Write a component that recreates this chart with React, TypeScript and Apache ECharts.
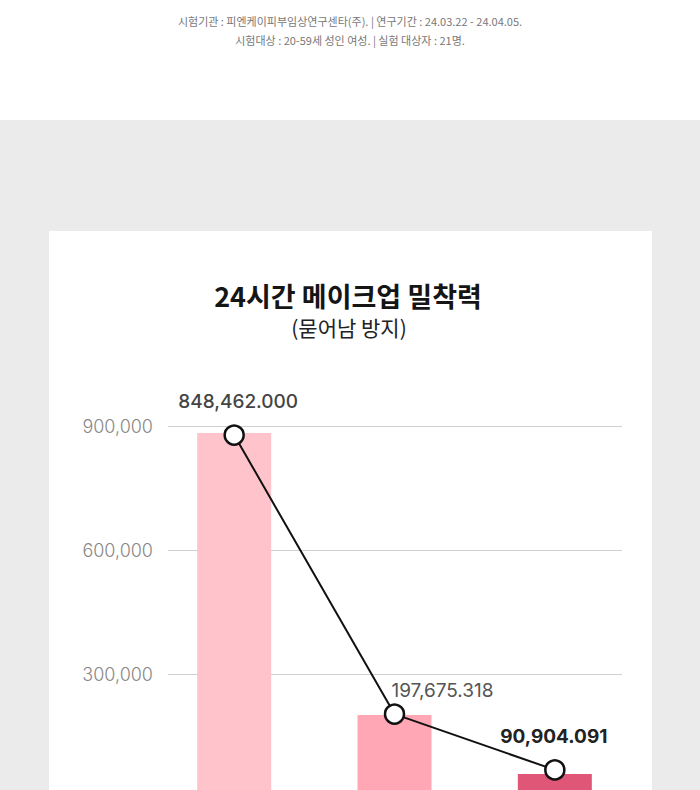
import React, { useEffect, useRef } from "react";
import * as echarts from "echarts";

const categories = ["1", "2", "3"];
const barValues = [883000, 201000, 58000];
const pointValues = [878000, 203000, 68000];
const valueLabels = ["848,462.000", "197,675.318", "90,904.091"];
const barColors = ["#ffc3cc", "#ffa7b5", "#e05677"];
const yMin = 0;
const yMax = 900000;
const yInterval = 300000;
const infoLines = [
  "시험기관 : 피엔케이피부임상연구센타(주). | 연구기간 : 24.03.22 - 24.04.05.",
  "시험대상 : 20-59세 성인 여성. | 실험 대상자 : 21명.",
];
const titleText = "24시간 메이크업 밀착력";
const subtitleText = "(묻어남 방지)";

const NUM_FONT = "Inter, 'Noto Sans', sans-serif";
const KR_FONT = "'Noto Sans CJK KR', 'Noto Sans', sans-serif";

const CHART_H = 860;

export default function App() {
  const ref = useRef<HTMLDivElement>(null);
  useEffect(() => {
    if (!ref.current) return;
    const chart = echarts.init(ref.current, undefined, { renderer: "svg" });
    const labelStyles = [
      { offset: [4, -34], color: "#444", fontWeight: 500 },
      { offset: [48, -24], color: "#555", fontWeight: 400 },
      { offset: [-1, -33], color: "#222", fontWeight: 700 },
    ];
    const gridBottom = CHART_H - 798;
    chart.setOption({
      animation: false,
      backgroundColor: "#ffffff",
      graphic: [
        { type: "rect", z: -100, shape: { x: 0, y: 120, width: 700, height: CHART_H }, style: { fill: "#ebebeb" } },
        { type: "rect", z: -90, shape: { x: 49, y: 231, width: 603, height: CHART_H }, style: { fill: "#ffffff" } },
        ...infoLines.map((t, i) => ({
          type: "text",
          z: 100,
          x: 350,
          y: 21 + i * 19,
          style: {
            text: t,
            fill: "#777",
            fontSize: 11,
            lineHeight: 13,
            fontFamily: KR_FONT,
            textAlign: "center",
            textVerticalAlign: "middle",
            verticalAlign: "middle",
          },
        })),
        {
          type: "text",
          z: 100,
          x: 348,
          y: 295,
          style: {
            text: titleText,
            fill: "#151515",
            fontSize: 27,
            lineHeight: 28,
            fontWeight: 700,
            fontFamily: KR_FONT,
            textAlign: "center",
            textVerticalAlign: "middle",
            verticalAlign: "middle",
          },
        },
        {
          type: "text",
          z: 100,
          x: 349,
          y: 327,
          style: {
            text: subtitleText,
            fill: "#222",
            fontSize: 21,
            lineHeight: 22,
            fontWeight: 400,
            fontFamily: KR_FONT,
            textAlign: "center",
            textVerticalAlign: "middle",
            verticalAlign: "middle",
          },
        },
      ],
      grid: [
        { left: 168, right: 78, top: 426, bottom: gridBottom, containLabel: false },
        { left: 154, right: 65, top: 426, bottom: gridBottom, containLabel: false },
      ],
      xAxis: [
        {
          type: "category",
          gridIndex: 0,
          data: categories,
          show: false,
        },
        {
          type: "category",
          gridIndex: 1,
          data: categories,
          axisLine: { show: false },
          axisTick: { show: false },
          axisLabel: { show: false },
        },
      ],
      yAxis: [
        {
          type: "value",
          gridIndex: 0,
          min: yMin,
          max: yMax,
          interval: yInterval,
          axisLine: { show: false },
          axisTick: { show: false },
          splitLine: { lineStyle: { color: "#d0d0d0", width: 1 } },
          axisLabel: {
            margin: 15,
            color: "#888",
            fontSize: 18,
            fontWeight: 300,
            fontFamily: NUM_FONT,
            formatter: (v: number) => v.toLocaleString("en-US"),
          },
        },
        {
          type: "value",
          gridIndex: 1,
          min: yMin,
          max: yMax,
          interval: yInterval,
          show: false,
          splitLine: { show: false },
        },
      ],
      series: [
        {
          type: "bar",
          xAxisIndex: 1,
          yAxisIndex: 1,
          barWidth: 74,
          z: 2,
          data: barValues.map((v, i) => ({ value: v, itemStyle: { color: barColors[i] } })),
        },
        {
          type: "line",
          xAxisIndex: 1,
          yAxisIndex: 1,
          z: 5,
          symbol: "circle",
          symbolSize: 19,
          lineStyle: { color: "#111", width: 2 },
          itemStyle: { color: "#ffffff", borderColor: "#111", borderWidth: 2.5 },
          data: pointValues.map((v, i) => ({
            value: v,
            label: {
              show: true,
              position: "inside",
              formatter: () => valueLabels[i],
              offset: labelStyles[i].offset,
              color: labelStyles[i].color,
              fontWeight: labelStyles[i].fontWeight,
              fontSize: 19,
              fontFamily: NUM_FONT,
            },
          })),
        },
      ],
    });
    return () => chart.dispose();
  }, []);
  return (
    <div style={{ position: "fixed", left: 0, top: 0, width: 700, height: 790, overflow: "hidden" }}>
      <div ref={ref} style={{ width: 700, height: CHART_H }} />
    </div>
  );
}
